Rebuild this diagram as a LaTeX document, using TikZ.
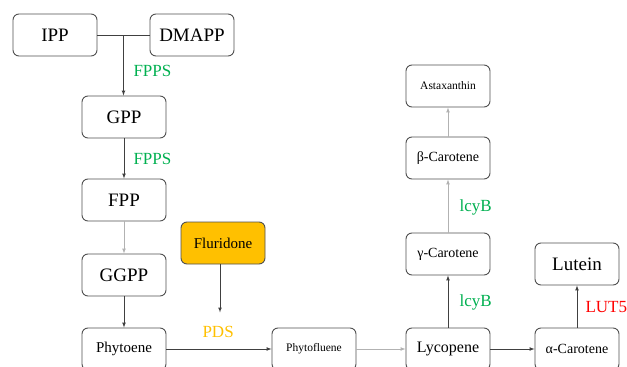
\documentclass[tikz,border=0pt]{standalone}
\usepackage{fontspec}
\setmainfont{Liberation Serif}
\usetikzlibrary{arrows,calc,positioning}

\definecolor{enzgreen}{HTML}{00B050}
\definecolor{pdsorange}{HTML}{FFC000}
\definecolor{boxline}{HTML}{505050}

\begin{document}
\begin{tikzpicture}[x=1pt,y=-1pt,>=latex,
  metab/.style={draw=boxline,line width=0.9pt,rounded corners=6pt,
    minimum width=84pt,minimum height=42pt,inner sep=1pt},
  enzyme/.style={anchor=west,font=\fontsize{17}{17}\selectfont},
  flow/.style={->,draw=black!75,line width=0.7pt},
  faint/.style={->,draw=black!30,line width=0.7pt}]
\useasboundingbox (0,0) rectangle (627,367);

\node[metab,font=\fontsize{19}{19}\selectfont] (ipp) at (55,35) {IPP};
\node[metab,font=\fontsize{19}{19}\selectfont] (dmapp) at (192,35) {DMAPP};
\node[metab,font=\fontsize{19}{19}\selectfont] (gpp) at (124,117) {GPP};
\node[metab,font=\fontsize{19}{19}\selectfont] (fpp) at (124,200) {FPP};
\node[metab,font=\fontsize{19}{19}\selectfont] (ggpp) at (124,275) {GGPP};
\node[metab,font=\fontsize{15}{15}\selectfont] (phytoene) at (124,349) {Phytoene};
\node[metab,fill=pdsorange,font=\fontsize{15}{15}\selectfont] (fluridone) at (223,243) {Fluridone};
\node[metab,font=\fontsize{11.5}{11.5}\selectfont] (phytofluene) at (314,349) {Phytofluene};
\node[metab,font=\fontsize{16}{16}\selectfont] (lycopene) at (448,349) {Lycopene};
\node[metab,font=\fontsize{14}{14}\selectfont] (acarotene) at (577,349) {α-Carotene};
\node[metab,font=\fontsize{19}{19}\selectfont] (lutein) at (577,264) {Lutein};
\node[metab,font=\fontsize{14}{14}\selectfont] (gcarotene) at (448,254) {γ-Carotene};
\node[metab,font=\fontsize{14}{14}\selectfont] (bcarotene) at (448,158) {β-Carotene};
\node[metab,font=\fontsize{11.5}{11.5}\selectfont] (astaxanthin) at (448,86) {Astaxanthin};

\coordinate (join) at ($(ipp.east)!0.5!(dmapp.west)$);
\coordinate (pdsend) at ($(fluridone.south) + (-3,48)$);

\draw [draw=black!75,line width=0.7pt] (ipp) -- (dmapp);
\draw [flow] (join) -- (join |- gpp.north);
\draw [flow] (gpp) -- (fpp);
\draw [faint] (fpp) -- (ggpp);
\draw [flow] (ggpp) -- (phytoene);
\draw [flow] (fluridone.south -| pdsend) -- (pdsend);
\draw [flow] (phytoene) -- (phytofluene);
\draw [faint] (phytofluene) -- (lycopene);
\draw [flow] (lycopene) -- (acarotene);
\draw [flow] (acarotene) -- (lutein);
\draw [flow] (lycopene) -- (gcarotene);
\draw [faint] (gcarotene) -- (bcarotene);
\draw [faint] (bcarotene) -- (astaxanthin);

\node[enzyme,text=enzgreen] (fpps1) at (130,71) {FPPS};
\node[enzyme,text=enzgreen] (fpps2) at (130,159) {FPPS};
\node[enzyme,text=pdsorange] (pds) at (199,332) {PDS};
\node[enzyme,text=enzgreen] (lcyb1) at (456,207) {lcyB};
\node[enzyme,text=enzgreen] (lcyb2) at (456,302) {lcyB};
\node[enzyme,text=red] (lut5) at (582,307) {LUT5};
\end{tikzpicture}
\end{document}
